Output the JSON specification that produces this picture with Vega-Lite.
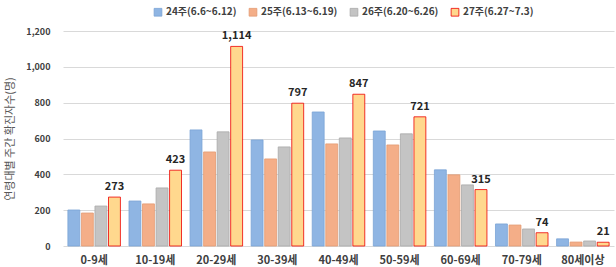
{
  "$schema": "https://vega.github.io/schema/vega-lite/v6.json",
  "autosize": {"type": "fit", "contains": "padding"},
  "width": 616,
  "height": 267,
  "padding": {"left": 4, "right": 2, "top": 27, "bottom": 2},
  "background": "white",
  "config": {
    "font": "Noto Sans CJK KR",
    "view": {"stroke": null},
    "axis": {"domain": false, "ticks": false}
  },
  "data": {
    "values": [
      {"age": "0-9세", "week": "24주(6.6~6.12)", "v": 201},
      {"age": "0-9세", "week": "25주(6.13~6.19)", "v": 184},
      {"age": "0-9세", "week": "26주(6.20~6.26)", "v": 223},
      {"age": "0-9세", "week": "27주(6.27~7.3)", "v": 273},
      {"age": "10-19세", "week": "24주(6.6~6.12)", "v": 251},
      {"age": "10-19세", "week": "25주(6.13~6.19)", "v": 235},
      {"age": "10-19세", "week": "26주(6.20~6.26)", "v": 324},
      {"age": "10-19세", "week": "27주(6.27~7.3)", "v": 423},
      {"age": "20-29세", "week": "24주(6.6~6.12)", "v": 648},
      {"age": "20-29세", "week": "25주(6.13~6.19)", "v": 525},
      {"age": "20-29세", "week": "26주(6.20~6.26)", "v": 637},
      {"age": "20-29세", "week": "27주(6.27~7.3)", "v": 1114},
      {"age": "30-39세", "week": "24주(6.6~6.12)", "v": 592},
      {"age": "30-39세", "week": "25주(6.13~6.19)", "v": 486},
      {"age": "30-39세", "week": "26주(6.20~6.26)", "v": 553},
      {"age": "30-39세", "week": "27주(6.27~7.3)", "v": 797},
      {"age": "40-49세", "week": "24주(6.6~6.12)", "v": 748},
      {"age": "40-49세", "week": "25주(6.13~6.19)", "v": 570},
      {"age": "40-49세", "week": "26주(6.20~6.26)", "v": 603},
      {"age": "40-49세", "week": "27주(6.27~7.3)", "v": 847},
      {"age": "50-59세", "week": "24주(6.6~6.12)", "v": 642},
      {"age": "50-59세", "week": "25주(6.13~6.19)", "v": 564},
      {"age": "50-59세", "week": "26주(6.20~6.26)", "v": 626},
      {"age": "50-59세", "week": "27주(6.27~7.3)", "v": 721},
      {"age": "60-69세", "week": "24주(6.6~6.12)", "v": 425},
      {"age": "60-69세", "week": "25주(6.13~6.19)", "v": 397},
      {"age": "60-69세", "week": "26주(6.20~6.26)", "v": 341},
      {"age": "60-69세", "week": "27주(6.27~7.3)", "v": 315},
      {"age": "70-79세", "week": "24주(6.6~6.12)", "v": 123},
      {"age": "70-79세", "week": "25주(6.13~6.19)", "v": 117},
      {"age": "70-79세", "week": "26주(6.20~6.26)", "v": 95},
      {"age": "70-79세", "week": "27주(6.27~7.3)", "v": 74},
      {"age": "80세이상", "week": "24주(6.6~6.12)", "v": 40},
      {"age": "80세이상", "week": "25주(6.13~6.19)", "v": 22},
      {"age": "80세이상", "week": "26주(6.20~6.26)", "v": 28},
      {"age": "80세이상", "week": "27주(6.27~7.3)", "v": 21}
    ]
  },
  "encoding": {
    "x": {
      "field": "age", "type": "nominal", "sort": null,
      "scale": {"paddingInner": 0.14, "paddingOuter": 0.08},
      "axis": {"title": null, "labelAngle": 0, "labelFontWeight": "bold", "labelFontSize": 11, "labelColor": "#404040", "labelPadding": 8, "grid": false}
    },
    "xOffset": {"field": "week", "type": "nominal", "sort": null, "scale": {"paddingInner": 0.12}},
    "y": {
      "field": "v", "type": "quantitative",
      "scale": {"domain": [0, 1200]},
      "axis": {"title": "연령대별 주간 확진자수(명)", "titleFontWeight": "normal", "titleFontSize": 11, "titleColor": "#595959", "titlePadding": 10, "values": [0, 200, 400, 600, 800, 1000, 1200], "format": ",d", "labelOverlap": false, "labelFontSize": 9, "labelFontWeight": "bold", "labelColor": "#404040", "gridColor": "#D9D9D9", "labelPadding": 13}
    }
  },
  "layer": [
    {
      "mark": {"type": "bar"},
      "encoding": {
        "color": {
          "field": "week", "type": "nominal", "sort": null,
          "scale": {"range": ["#8FB5E3", "#F4AE88", "#C4C4C4", "#FFD88E"]},
          "legend": {"title": null, "orient": "none", "legendX": 90, "legendY": -24, "direction": "horizontal", "symbolType": "square", "symbolSize": 60, "labelFontSize": 10, "labelFontWeight": "bold", "labelColor": "#404040", "columnPadding": 10, "labelOffset": 3}
        },
        "stroke": {
          "field": "week", "type": "nominal", "sort": null,
          "scale": {"range": ["#7AA3D6", "#E39A72", "#A9A9A9", "#EE0000"]},
          "legend": null
        },
        "strokeWidth": {
          "field": "week", "type": "nominal", "sort": null,
          "scale": {"range": [0.8, 0.8, 0.8, 3]},
          "legend": null
        }
      }
    },
    {
      "transform": [{"filter": "datum.week == '27주(6.27~7.3)'"}],
      "mark": {"type": "text", "dy": -10, "fontWeight": "bold", "fontSize": 11, "color": "#262626"},
      "encoding": {
        "text": {"field": "v", "type": "quantitative", "format": ","}
      }
    }
  ]
}
